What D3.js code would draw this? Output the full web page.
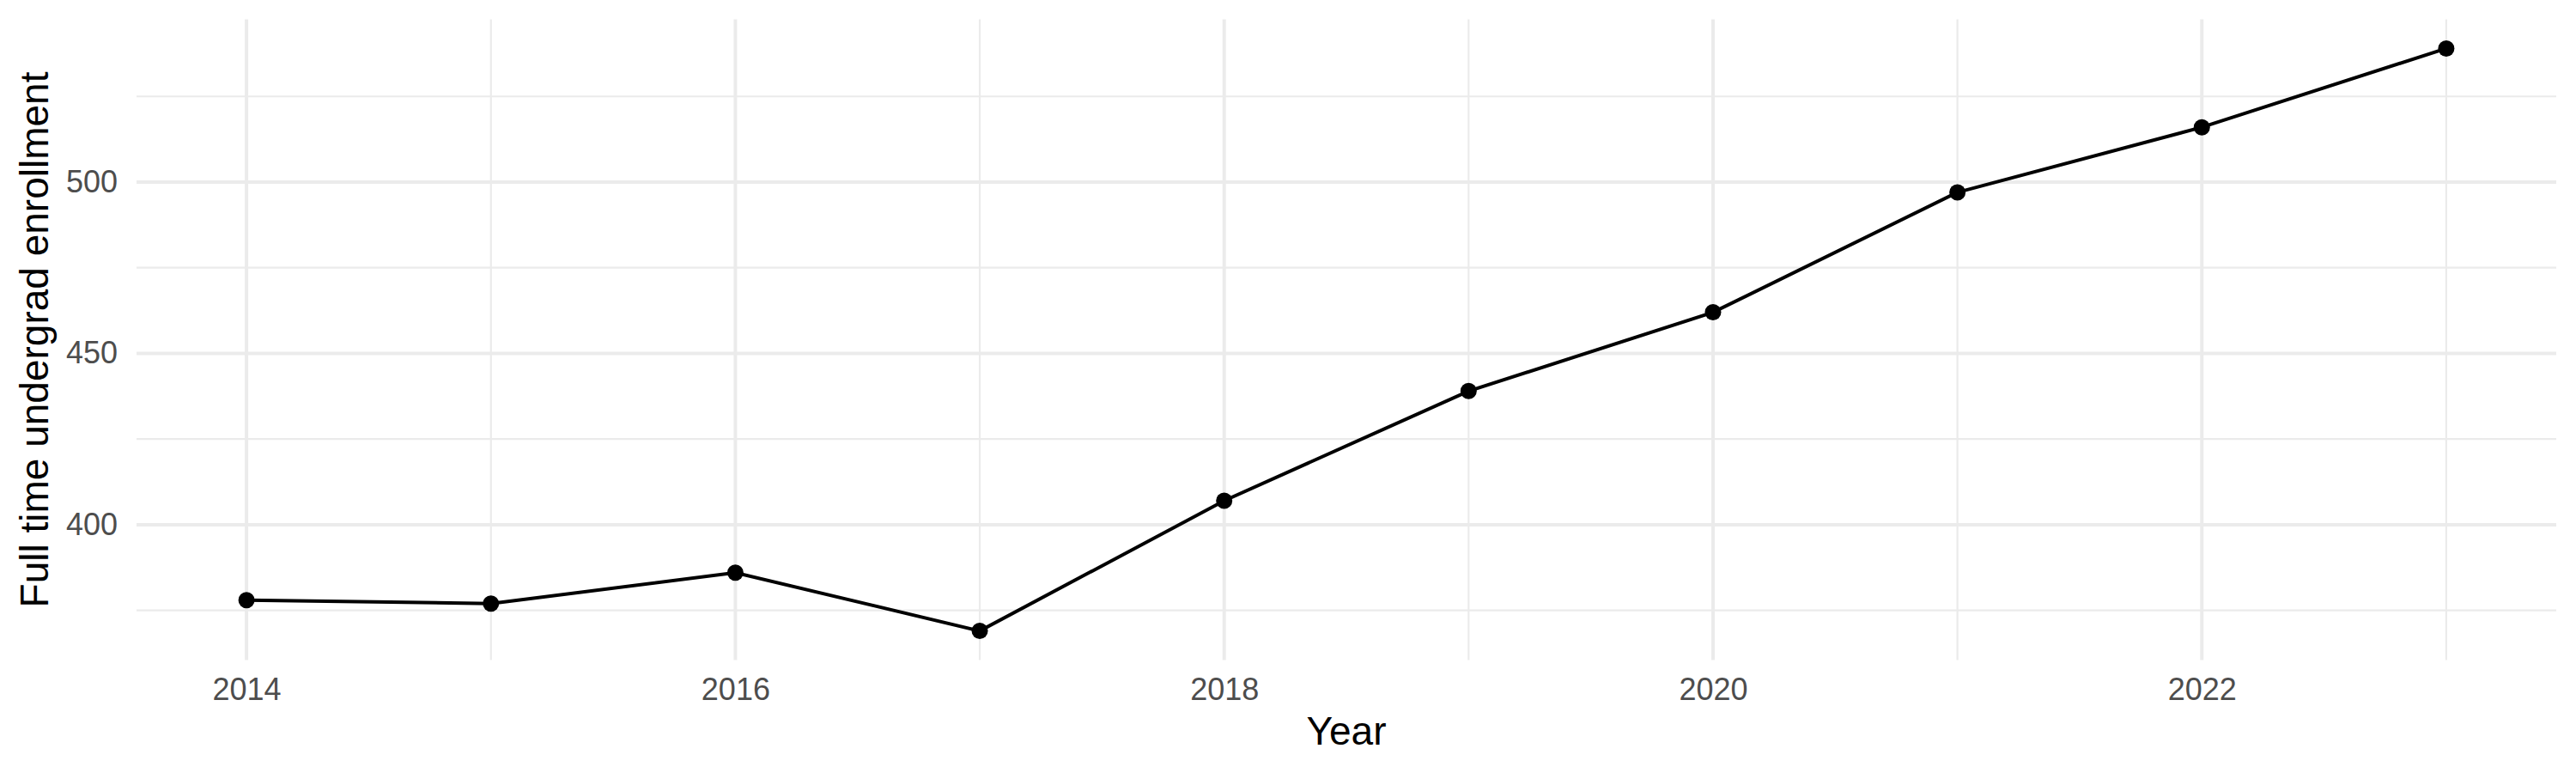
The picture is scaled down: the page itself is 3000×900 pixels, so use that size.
<!DOCTYPE html>
<html>
<head>
<meta charset="utf-8">
<script src="https://cdn.jsdelivr.net/npm/d3@7"></script>
<style>
  body { margin: 0; background: #fff; }
  text { font-family: "Liberation Sans", Arial, sans-serif; }
</style>
</head>
<body>
<div class="canvas"></div>
<script>
// data
const years = [2014, 2015, 2016, 2017, 2018, 2019, 2020, 2021, 2022, 2023]
const enrollment = [378, 377, 386, 369, 407, 439, 462, 497, 516, 539]
const xTicks = [2014, 2016, 2018, 2020, 2022]
const xMinor = [2015, 2017, 2019, 2021, 2023]
const yTicks = [400, 450, 500]
const yMinor = [375, 425, 475, 525]

const data = years.map((d, i) => ({ year: d, value: enrollment[i] }))

const width = 3000
const height = 900
const margin = { top: 22.5, right: 23, bottom: 131.5, left: 159 }
const graphWidth = width - margin.left - margin.right
const graphHeight = height - margin.top - margin.bottom

const svg = d3.select('.canvas')
    .append('svg')
    .attr('width', width)
    .attr('height', height)

const graph = svg.append('g')
    .attr('transform', `translate(${margin.left}, ${margin.top})`)

// scales with ggplot style 5% expansion
const xExt = d3.extent(years)
const yExt = d3.extent(enrollment)
const xPad = (xExt[1] - xExt[0]) * 0.05
const yPad = (yExt[1] - yExt[0]) * 0.05

const x = d3.scaleLinear()
    .domain([xExt[0] - xPad, xExt[1] + xPad])
    .range([0, graphWidth])

const y = d3.scaleLinear()
    .domain([yExt[0] - yPad, yExt[1] + yPad])
    .range([graphHeight, 0])

// grid
const grid = graph.append('g').attr('stroke', '#ebebeb')

grid.selectAll('.ymin')
    .data(yMinor)
    .enter().append('line')
    .attr('x1', 0).attr('x2', graphWidth)
    .attr('y1', d => y(d)).attr('y2', d => y(d))
    .attr('stroke-width', 2.2)

grid.selectAll('.xmin')
    .data(xMinor)
    .enter().append('line')
    .attr('y1', 0).attr('y2', graphHeight)
    .attr('x1', d => x(d)).attr('x2', d => x(d))
    .attr('stroke-width', 2.2)

grid.selectAll('.ymaj')
    .data(yTicks)
    .enter().append('line')
    .attr('x1', 0).attr('x2', graphWidth)
    .attr('y1', d => y(d)).attr('y2', d => y(d))
    .attr('stroke-width', 4)

grid.selectAll('.xmaj')
    .data(xTicks)
    .enter().append('line')
    .attr('y1', 0).attr('y2', graphHeight)
    .attr('x1', d => x(d)).attr('x2', d => x(d))
    .attr('stroke-width', 4)

// axes
const xAxis = d3.axisBottom(x)
    .tickValues(xTicks)
    .tickFormat(d3.format('d'))
    .tickSize(0)
    .tickPadding(21)

const yAxis = d3.axisLeft(y)
    .tickValues(yTicks)
    .tickSize(0)
    .tickPadding(22)

const xAxisGroup = graph.append('g')
    .attr('transform', `translate(0, ${graphHeight})`)
    .call(xAxis)
const yAxisGroup = graph.append('g')
    .call(yAxis)

xAxisGroup.select('.domain').remove()
yAxisGroup.select('.domain').remove()

graph.selectAll('.tick text')
    .attr('fill', '#4d4d4d')
    .style('font-size', '36px')
    .style('font-family', '"Liberation Sans", Arial, sans-serif')

// line + points
const line = d3.line()
    .x(d => x(d.year))
    .y(d => y(d.value))

graph.append('path')
    .datum(data)
    .attr('fill', 'none')
    .attr('stroke', '#000')
    .attr('stroke-width', 4)
    .attr('d', line)

graph.selectAll('circle')
    .data(data)
    .enter().append('circle')
    .attr('cx', d => x(d.year))
    .attr('cy', d => y(d.value))
    .attr('r', 9.5)
    .attr('fill', '#000')

// titles
svg.append('text')
    .attr('x', margin.left + graphWidth / 2)
    .attr('y', 867)
    .attr('text-anchor', 'middle')
    .style('font-size', '46px')
    .text('Year')

svg.append('text')
    .attr('transform', `translate(56, ${margin.top + graphHeight / 2}) rotate(-90)`)
    .attr('text-anchor', 'middle')
    .style('font-size', '46px')
    .text('Full time undergrad enrollment')
</script>
</body>
</html>
